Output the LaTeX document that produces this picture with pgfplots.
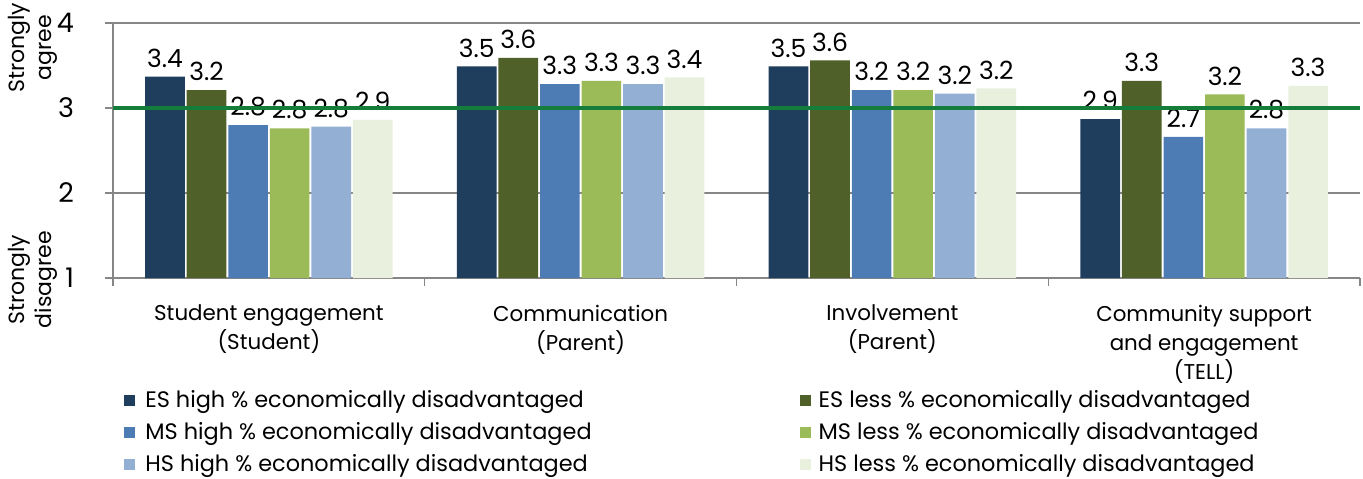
\documentclass[border=0pt]{standalone}
\usepackage{fontspec}
\setmainfont{Poppins}
\usepackage{pgfplots}
\pgfplotsset{compat=1.18}
\definecolor{c1}{RGB}{31,61,92}
\definecolor{c2}{RGB}{79,97,40}
\definecolor{c3}{RGB}{77,123,180}
\definecolor{c4}{RGB}{155,187,89}
\definecolor{c5}{RGB}{147,176,212}
\definecolor{c6}{RGB}{234,240,222}
\definecolor{gline}{RGB}{20,125,60}
\definecolor{axgray}{RGB}{134,134,134}
\pgfplotsset{
  barstyle/.style={ybar, draw=none, bar width=0.127, bar shift=0,
    nodes near coords,
    nodes near coords style={font=\fontsize{12.5}{14}\selectfont, anchor=south, yshift=1pt,
      /pgf/number format/.cd, fixed, precision=1, fixed zerofill},
    legend image code/.code={\path[##1, draw=none] (0pt,-3pt) rectangle (5.5pt,2.5pt);}},
}
\begin{document}
\begin{tikzpicture}[font=\fontsize{11}{13}\selectfont]
\path[use as bounding box] (-56.5pt,-100pt) rectangle (625pt,139pt);
\begin{axis}[
  scale only axis, width=623.5pt, height=127.5pt,
  xmin=-0.5, xmax=3.5, ymin=1, ymax=4,
  clip mode=individual,
  axis x line*=bottom, axis y line*=left,
  axis line style={axgray, line width=1pt},
  ytick={1,2,3,4},
  ymajorgrids, grid style={axgray, line width=0.65pt},
  tick align=outside, major tick length=4pt, minor tick length=4pt,
  ytick style={axgray, line width=0.65pt},
  yticklabel style={font=\fontsize{13.5}{15}\selectfont, xshift=-12pt},
  /pgf/number format/assume math mode=true,
  xtick={0,1,2,3},
  xticklabels={{Student engagement\\(Student)}, {Communication\\(Parent)}, {Involvement\\(Parent)}, {Community support\\and engagement\\(TELL)}},
  xticklabel style={align=center, font=\fontsize{10.7}{14.5}\selectfont, yshift=-6pt},
  major x tick style={draw=none},
  minor xtick={-0.5,0.5,1.5,2.5,3.5},
  minor x tick style={axgray, line width=0.65pt},
  legend columns=2,
  legend cell align=left,
  legend style={at={(axis description cs:0,0)}, anchor=north west, xshift=5.5pt, yshift=-54.5pt,
    draw=none, fill=none, inner sep=0pt,
    font=\fontsize{11.2}{12}\selectfont,
    nodes={inner sep=0pt, text height=10pt, text depth=3pt},
    row sep=3pt,
    /tikz/column 1/.style={column sep=5pt},
    /tikz/column 2/.style={column sep=104pt},
    /tikz/column 3/.style={column sep=4pt}},
]
\addplot[barstyle, fill=c1] coordinates {(-0.3333,3.37) (0.6667,3.49) (1.6667,3.49) (2.6667,2.87)};
\addplot[barstyle, fill=c2] coordinates {(-0.2,3.21) (0.8,3.59) (1.8,3.56) (2.8,3.32)};
\addplot[barstyle, fill=c3] coordinates {(-0.0667,2.80) (0.9333,3.28) (1.9333,3.21) (2.9333,2.66)};
\addplot[barstyle, fill=c4] coordinates {(0.0667,2.76) (1.0667,3.32) (2.0667,3.21) (3.0667,3.16)};
\addplot[barstyle, fill=c5] coordinates {(0.2,2.78) (1.2,3.28) (2.2,3.17) (3.2,2.76)};
\addplot[barstyle, fill=c6] coordinates {(0.3333,2.86) (1.3333,3.36) (2.3333,3.23) (3.3333,3.26)};
\legend{ES high \% economically disadvantaged, ES less \% economically disadvantaged,
        MS high \% economically disadvantaged, MS less \% economically disadvantaged,
        HS high \% economically disadvantaged, HS less \% economically disadvantaged}
\addplot[gline, line width=2pt, forget plot] coordinates {(-0.5,3) (3.5,3)};
\node[rotate=90, align=center, font=\fontsize{11}{13.5}\selectfont] at ([xshift=-40pt]axis cs:-0.5,3.71) {Strongly\\agree};
\node[rotate=90, align=center, font=\fontsize{11}{13.5}\selectfont] at ([xshift=-40pt]axis cs:-0.5,0.98) {Strongly\\disagree};
\end{axis}
\end{tikzpicture}
\end{document}
